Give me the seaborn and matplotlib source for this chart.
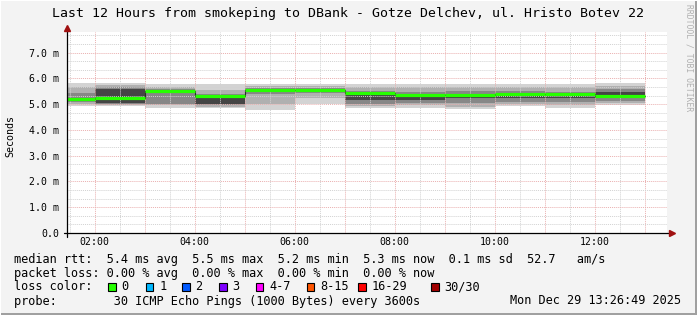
import numpy as np
import pandas as pd
import matplotlib
matplotlib.use("Agg")
import matplotlib.pyplot as plt
import seaborn as sns
from matplotlib.patches import Rectangle

# ---------------- data ----------------
TITLE = "Last 12 Hours from smokeping to DBank - Gotze Delchev, ul. Hristo Botev 22"
Y_LABEL = "Seconds"
WATERMARK = "RRDTOOL / TOBI OETIKER"

bar_start_hours = [1, 2, 3, 4, 5, 6, 7, 8, 9, 10, 11, 12]
bar_width_hours = 1
view_start_hour = 1 + 26 / 60 + 49 / 3600
view_span_hours = 12

median_ms = [5.21, 5.24, 5.51, 5.32, 5.53, 5.54, 5.42, 5.37, 5.37, 5.39, 5.39, 5.33]
smoke_min = [4.91, 4.91, 4.87, 4.85, 4.79, 5.00, 4.86, 4.87, 4.80, 4.92, 4.87, 4.98]
smoke_p10 = [5.00, 4.97, 4.95, 4.90, 5.00, 5.25, 4.93, 4.95, 4.90, 5.00, 4.95, 5.03]
smoke_p25 = [5.08, 5.00, 5.00, 4.95, 5.40, 5.45, 5.02, 5.05, 5.05, 5.08, 5.07, 5.12]
smoke_p40 = [5.15, 5.03, 5.45, 5.00, 5.50, 5.52, 5.18, 5.15, 5.22, 5.22, 5.25, 5.24]
smoke_p60 = [5.25, 5.60, 5.52, 5.33, 5.58, 5.56, 5.42, 5.37, 5.40, 5.40, 5.40, 5.48]
smoke_p75 = [5.45, 5.65, 5.58, 5.40, 5.64, 5.64, 5.50, 5.48, 5.50, 5.50, 5.47, 5.57]
smoke_p90 = [5.65, 5.73, 5.68, 5.55, 5.70, 5.71, 5.65, 5.65, 5.65, 5.65, 5.65, 5.70]
smoke_max = [5.81, 5.84, 5.77, 5.80, 5.78, 5.78, 5.80, 5.80, 5.80, 5.80, 5.80, 5.83]

x_tick_hours = [2, 4, 6, 8, 10, 12]
x_tick_labels = ["02:00", "04:00", "06:00", "08:00", "10:00", "12:00"]
y_tick_values = [0, 1, 2, 3, 4, 5, 6, 7]
y_tick_labels = ["0.0", "1.0 m", "2.0 m", "3.0 m", "4.0 m", "5.0 m", "6.0 m", "7.0 m"]
y_max = 7.8

legend_rtt = "median rtt:  5.4 ms avg  5.5 ms max  5.2 ms min  5.3 ms now  0.1 ms sd  52.7   am/s"
legend_loss = "packet loss: 0.00 % avg  0.00 % max  0.00 % min  0.00 % now"
legend_color_title = "loss color:"
loss_labels = ["0", "1", "2", "3", "4-7", "8-15", "16-29", "30/30"]
loss_colors = ["#26ff00", "#00b8ff", "#0059ff", "#7e00ff", "#ff00ff", "#ff5500", "#ff0000", "#a10000"]
probe_text = "probe:        30 ICMP Echo Pings (1000 Bytes) every 3600s"
timestamp = "Mon Dec 29 13:26:49 2025"

# ---------------- style ----------------
W, H = 697, 315
sns.set_theme(style="white")
plt.rcParams["font.family"] = ["DejaVu Sans Mono", "DejaVu Sans"]
BG = "#f3f3f3"

fig = plt.figure(figsize=(W / 100, H / 100), dpi=100, facecolor=BG)

def fx(px):
    return px / W

def fy(py):
    return 1 - py / H

ax_left, ax_right, ax_top, ax_bottom = 67, 667, 32, 233
ax = fig.add_axes([fx(ax_left), fy(ax_bottom), (ax_right - ax_left) / W, (ax_bottom - ax_top) / H])
ax.set_facecolor("white")

x_edges = list(bar_start_hours) + [bar_start_hours[-1] + bar_width_hours]

def ext(v):
    return list(v) + [v[-1]]

layers = [
    (smoke_min, smoke_max, "#d3d3d3"),
    (smoke_p10, smoke_p90, "#b0b0b0"),
    (smoke_p25, smoke_p75, "#878787"),
    (smoke_p40, smoke_p60, "#454545"),
]
for lo, hi, col in layers:
    ax.fill_between(x_edges, ext(lo), ext(hi), step="post", color=col, lw=0, zorder=1)

# dark step connector of the median (seaborn)
df = pd.DataFrame({"t": x_edges, "median": ext(median_ms)})
sns.lineplot(data=df, x="t", y="median", drawstyle="steps-post", color="#2a2a2a",
             lw=0.8, ax=ax, zorder=2.6, estimator=None)
# green median segments
ends = [s + bar_width_hours for s in bar_start_hours]
ax.hlines(median_ms, bar_start_hours, ends, color=loss_colors[0], lw=2.3, zorder=3)

ax.set_xlim(view_start_hour, view_start_hour + view_span_hours)
ax.set_ylim(0, y_max)

# grid
dot = (0, (1, 1))
h0 = np.ceil(view_start_hour * 2) / 2
for h in np.arange(h0, view_start_hour + view_span_hours, 0.5):
    major = abs(h - round(h)) < 1e-6
    ax.axvline(h, color="#eab0b0" if major else "#d2d2d2", lw=0.7, ls=dot, zorder=2.5)
for v in np.arange(1 / 3, y_max, 1 / 3):
    major = abs(v - round(v)) < 1e-6
    ax.axhline(v, color="#eab0b0" if major else "#d2d2d2", lw=0.7, ls=dot, zorder=2.5)

for s in ax.spines.values():
    s.set_visible(False)

ax.set_xticks(x_tick_hours)
ax.set_xticklabels(x_tick_labels)
ax.set_yticks(y_tick_values)
ax.set_yticklabels(y_tick_labels)
ax.tick_params(axis="x", length=0, pad=3, labelsize=7.1, colors="#000000")
ax.tick_params(axis="y", length=0, pad=5.5, labelsize=7.1, colors="#000000")
ax.set_xlabel("")
ax.set_ylabel("")

# axis lines with arrows
ax.plot([0, 0], [-0.02, 1.015], color="black", lw=0.9, transform=ax.transAxes, clip_on=False, zorder=4)
ax.plot([-0.005, 1.005], [0, 0], color="black", lw=0.9, transform=ax.transAxes, clip_on=False, zorder=4)
ax.plot([0], [1.02], marker="^", ms=4.5, color="#a01010", mec="#a01010",
        transform=ax.transAxes, clip_on=False, zorder=5)
ax.plot([1.009], [0], marker=">", ms=4.5, color="#a01010", mec="#a01010",
        transform=ax.transAxes, clip_on=False, zorder=5)

# texts
fig.text(fx(348), fy(17), TITLE, ha="center", va="baseline", fontsize=9.5, color="black")
fig.text(fx(10), fy(136), Y_LABEL, ha="center", va="center", rotation=90, fontsize=7.2, color="black")
fig.text(fx(688.5), fy(4), WATERMARK, ha="center", va="top", rotation=270, fontsize=5.8, color="#b0b0b0")

LFS = 8.6
x0 = 13.8
fig.text(fx(x0), fy(262.5), legend_rtt, ha="left", va="baseline", fontsize=LFS, color="black")
fig.text(fx(x0), fy(276.5), legend_loss, ha="left", va="baseline", fontsize=LFS, color="black")
fig.text(fx(x0), fy(290.5), legend_color_title, ha="left", va="baseline", fontsize=LFS, color="black")
fig.text(fx(x0), fy(304.5), probe_text, ha="left", va="baseline", fontsize=LFS, color="black")
fig.text(fx(680.5), fy(304.5), timestamp, ha="right", va="baseline", fontsize=LFS, color="black")

box_x = [108, 145.5, 182, 219, 255.5, 306.5, 358, 431]
for bx, lab, col in zip(box_x, loss_labels, loss_colors):
    fig.patches.append(Rectangle((fx(bx), fy(291)), 7.7 / W, 7.7 / H, transform=fig.transFigure,
                                 facecolor=col, edgecolor="black", lw=0.8))
    fig.text(fx(bx + 13.6), fy(290.5), lab, ha="left", va="baseline", fontsize=LFS, color="black")

# frame shading
fig.patches.append(Rectangle((fx(695), 0), 2 / W, 1, transform=fig.transFigure, facecolor="#a0a0a0", lw=0))
fig.patches.append(Rectangle((0, 0), 1, 2 / H, transform=fig.transFigure, facecolor="#a0a0a0", lw=0))
fig.patches.append(Rectangle((0, fy(1)), 1, 1 / H, transform=fig.transFigure, facecolor="#ffffff", lw=0))
fig.patches.append(Rectangle((0, 0), 1 / W, 1, transform=fig.transFigure, facecolor="#ffffff", lw=0))

fig.savefig("out.png", dpi=100, facecolor=BG)
